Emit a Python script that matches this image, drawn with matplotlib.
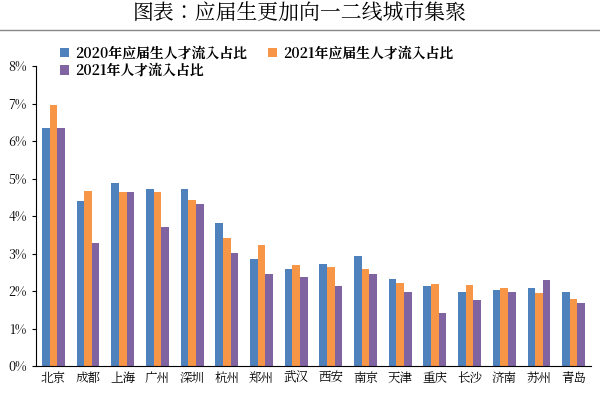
import matplotlib
matplotlib.use("Agg")
import matplotlib.pyplot as plt
from matplotlib import font_manager as fm
import numpy as np

cjk = None
for f in fm.findSystemFonts():
    if "CJK" in f or "cjk" in f.lower():
        fm.fontManager.addfont(f)
        cjk = f
names = [fe.name for fe in fm.fontManager.ttflist if "CJK" in fe.name]
fam = "Noto Sans CJK SC" if "Noto Sans CJK SC" in names else (names[0] if names else "DejaVu Sans")
plt.rcParams["font.family"] = [fam, "DejaVu Sans"]

cities = ["北京","成都","上海","广州","深圳","杭州","郑州","武汉","西安","南京","天津","重庆","长沙","济南","苏州","青岛"]
grad2020 = [6.35,4.40,4.88,4.72,4.73,3.82,2.85,2.58,2.73,2.93,2.33,2.13,1.97,2.03,2.07,1.98]
grad2021 = [6.95,4.68,4.65,4.63,4.43,3.42,3.23,2.70,2.65,2.58,2.22,2.20,2.15,2.07,1.95,1.80]
all2021 = [6.35,3.28,4.65,3.72,4.32,3.02,2.45,2.37,2.13,2.45,1.98,1.42,1.77,1.98,2.30,1.68]
series_names = ["2020年应届生人才流入占比","2021年应届生人才流入占比","2021年人才流入占比"]
yticks = [0,1,2,3,4,5,6,7,8]

fig = plt.figure(figsize=(6,4), dpi=100)
fig.text(0.5, 0.965, "图表：应届生更加向一二线城市集聚", ha="center", va="center", fontsize=15)
fig.add_artist(plt.Line2D([0,1],[0.925,0.925], color="#888888", lw=1))
ax = fig.add_axes([0.06, 0.085, 0.925, 0.75])
x = np.arange(len(cities))
w = 0.22
colors = ["#4f81bd", "#f79646", "#8064a2"]
handles = []
for i, (vals, name) in enumerate(zip([grad2020, grad2021, all2021], series_names)):
    handles.append(ax.bar(x + (i-1)*w, vals, w, color=colors[i], label=name, edgecolor="none"))
ax.set_ylim(0, 8)
ax.set_xlim(-0.5, len(cities)-0.5)
ax.set_yticks(yticks)
ax.set_yticklabels([f"{v}%" for v in yticks], fontsize=9)
ax.set_xticks(x)
ax.set_xticklabels(cities, fontsize=9)
ax.tick_params(axis="x", length=0)
ax.tick_params(axis="y", length=3)
for s in ["top","right"]:
    ax.spines[s].set_visible(False)
order = [0, 2, 1]
ax.legend([handles[i] for i in order], [series_names[i] for i in order], ncol=2,
          loc="upper left", bbox_to_anchor=(0.02, 1.11), frameon=False,
          prop={"size": 10, "weight": "bold"}, handlelength=0.7, columnspacing=1.5,
          handletextpad=0.4, labelspacing=0.1)
fig.savefig("out.png", dpi=100)
